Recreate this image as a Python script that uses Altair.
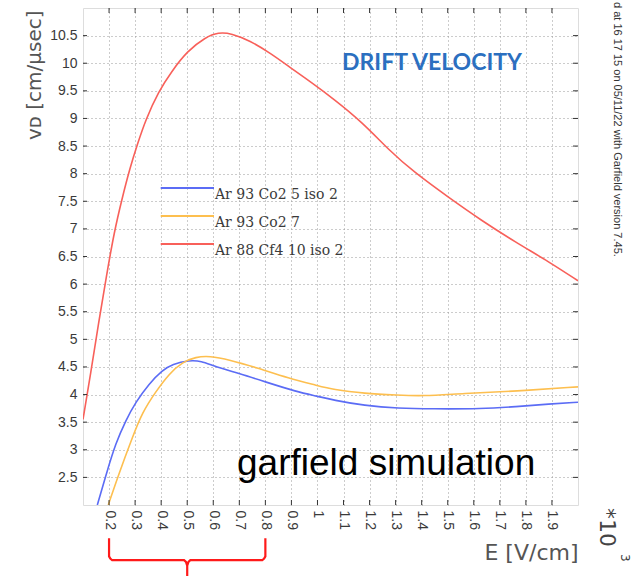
import altair as alt
import pandas as pd

# ---------------- data ----------------
series_names = ["Ar 93 Co2 5 iso 2", "Ar 93 Co2 7", "Ar 88 Cf4 10 iso 2"]
series_colors = ["#5b6cf5", "#fdbf4f", "#f8605a"]

blue_E = [0.155, 0.193, 0.225, 0.264, 0.302, 0.354, 0.405, 0.443, 0.508, 0.552, 0.61, 0.70,
          0.80, 0.92, 1.00, 1.06, 1.18, 1.31, 1.44, 1.63, 1.76, 1.89, 2.00]
blue_v = [2.0, 2.62, 3.11, 3.53, 3.86, 4.20, 4.44, 4.55, 4.62, 4.61, 4.50, 4.38,
          4.23, 4.05, 3.97, 3.90, 3.80, 3.75, 3.74, 3.74, 3.78, 3.83, 3.86]

orange_E = [0.197, 0.238, 0.29, 0.328, 0.379, 0.431, 0.482, 0.533, 0.585, 0.662, 0.764,
            0.892, 0.995, 1.06, 1.18, 1.31, 1.40, 1.56, 1.76, 2.00]
orange_v = [2.0, 2.57, 3.23, 3.68, 4.05, 4.38, 4.59, 4.68, 4.70, 4.63, 4.49,
            4.29, 4.17, 4.09, 4.02, 3.99, 3.97, 4.02, 4.06, 4.14]

red_E = [0.10, 0.13, 0.16, 0.19, 0.22, 0.25, 0.28, 0.31, 0.34, 0.39, 0.44, 0.50, 0.57, 0.62,
         0.67, 0.74, 0.82, 0.89, 0.98, 1.06, 1.17, 1.28, 1.37, 1.50, 1.63, 1.76, 1.89, 2.00]
red_v = [3.55, 4.40, 5.30, 6.15, 6.95, 7.55, 8.10, 8.55, 8.97, 9.49, 9.85, 10.22, 10.47, 10.56,
         10.54, 10.41, 10.18, 9.94, 9.64, 9.36, 8.94, 8.40, 8.03, 7.58, 7.15, 6.76, 6.40, 6.06]

x_ticks = [0.2, 0.3, 0.4, 0.5, 0.6, 0.7, 0.8, 0.9, 1.0, 1.1, 1.2, 1.3, 1.4, 1.5, 1.6, 1.7, 1.8, 1.9]
y_ticks = [2.5, 3.0, 3.5, 4.0, 4.5, 5.0, 5.5, 6.0, 6.5, 7.0, 7.5, 8.0, 8.5, 9.0, 9.5, 10.0, 10.5]

brace_range = [0.2, 0.8]   # field range highlighted below the axis

# ---------------- tables ----------------
rows = []
for name, Es, vs in zip(series_names, [blue_E, orange_E, red_E], [blue_v, orange_v, red_v]):
    for i, (e, v) in enumerate(zip(Es, vs)):
        rows.append({"E": e, "v": v, "series": name, "i": i})
df = pd.DataFrame(rows)

lo, hi = brace_range
mid = (lo + hi) / 2
# curly-brace outline (shape geometry, in data units below the axis)
b_top, b_corner, b_line, b_tip = 1.40, 1.07, 1.0, 0.71
d = 0.012
brace_pts = [(lo, b_top), (lo, b_corner), (lo + d * 0.4, b_line + 0.03), (lo + d, b_line),
             (mid - d, b_line), (mid - d * 0.4, b_line - 0.03), (mid, b_line - 0.1), (mid, b_tip),
             (mid, b_line - 0.1), (mid + d * 0.4, b_line - 0.03), (mid + d, b_line),
             (hi - d, b_line), (hi - d * 0.4, b_line + 0.03), (hi, b_corner), (hi, b_top)]
brace_df = pd.DataFrame({"E": [p[0] for p in brace_pts], "v": [p[1] for p in brace_pts],
                         "i": list(range(len(brace_pts)))})

W, H = 495, 497
xscale = alt.Scale(domain=[0.1, 2.0], nice=False, zero=False)
yscale = alt.Scale(domain=[2.0, 11.0], nice=False, zero=False)

x_axis = alt.Axis(values=x_ticks, format="~g", labelAngle=90, labelFont="Liberation Sans",
                  labelFontSize=14, labelColor="#3a3a3a", labelPadding=5, labelFlush=False,
                  labelOverlap=False, labelSeparation=0, tickSize=0, domain=False, grid=True,
                  gridDash=[1, 3], gridColor="#999", title="E [V/cm]", titleFont="DejaVu Sans",
                  titleFontSize=22, titleFontWeight="normal", titleColor="#555",
                  titleAnchor="end", titleAlign="right", titleX=W, titleY=47,
                  titleBaseline="middle")
y_axis = alt.Axis(values=y_ticks, format="~g", labelFont="Liberation Sans", labelFontSize=14,
                  labelColor="#3a3a3a", labelPadding=6, labelOverlap=False, labelSeparation=0,
                  labelFlush=False, tickSize=0, domain=False, grid=True,
                  gridDash=[1, 3], gridColor="#999", title="vᴅ [cm/μsec]",
                  titleFont="DejaVu Sans", titleFontSize=20, titleFontWeight="normal",
                  titleColor="#555", titleAngle=-90, titleX=-49, titleY=2,
                  titleAlign="right", titleBaseline="middle")

X = alt.X("E:Q", scale=xscale, axis=x_axis)
Y = alt.Y("v:Q", scale=yscale, axis=y_axis)

lines = alt.Chart(df).mark_line(strokeWidth=1.6, clip=True, interpolate="basis").encode(
    x=X, y=Y,
    color=alt.Color("series:N", scale=alt.Scale(domain=series_names, range=series_colors),
                    legend=alt.Legend(orient="none", legendX=104, legendY=166, title=None,
                                      symbolType="M-3.1,0H1", symbolSize=676,
                                      symbolStrokeWidth=2, symbolFillColor="transparent",
                                      labelFont="DejaVu Serif", labelFontSize=14,
                                      labelColor="#3a3a3a", labelOffset=0, labelBaseline="top",
                                      rowPadding=0)),
    order="i:Q",
)

tx = pd.DataFrame({"E": x_ticks})
ty = pd.DataFrame({"v": y_ticks})
tick_color = "#333"
top_ticks = alt.Chart(tx).mark_rule(color=tick_color).encode(
    x=X, y=alt.value(0), y2=alt.value(5))
bot_ticks = alt.Chart(tx).mark_rule(color=tick_color).encode(
    x=X, y=alt.value(H - 5), y2=alt.value(H))
left_ticks = alt.Chart(ty).mark_rule(color=tick_color).encode(
    y=Y, x=alt.value(0), x2=alt.value(4))
right_ticks = alt.Chart(ty).mark_rule(color=tick_color).encode(
    y=Y, x=alt.value(W - 5), x2=alt.value(W))

brace = alt.Chart(brace_df).mark_line(color="#ff1a1a", strokeWidth=2.2, clip=False).encode(
    x=X, y=Y, order="i:Q")

def label(text, x, y, size, color="#333", font="Liberation Sans", weight="normal",
          angle=0, align="left", baseline="middle"):
    return alt.Chart(pd.DataFrame({"t": [text]})).mark_text(
        font=font, fontSize=size, fontWeight=weight, color=color, angle=angle,
        align=align, baseline=baseline).encode(text="t:N", x=alt.value(x), y=alt.value(y))

drift = label("DRIFT VELOCITY", 349, 55, 23, color="#2b6fc0", font="Lato", weight="bold",
              align="center")
garf = label("garfield simulation", 154, 467, 37, color="#000", baseline="alphabetic")
times10 = label("*10", 524, 500, 22, color="#444", font="DejaVu Sans", angle=90)
exp3 = label("3", 542, 546, 12, color="#444", font="DejaVu Sans", angle=90)
side = label("d at 16 17 15 on 05/11/22 with Garfield version 7.45.", 534, -6, 11,
             color="#333", angle=90)

chart = alt.layer(
    lines, top_ticks, bot_ticks, left_ticks, right_ticks, brace,
    drift, garf, times10, exp3, side,
).properties(
    width=W, height=H,
    autosize=alt.AutoSizeParams(type="none"),
    padding={"left": 83, "top": 8, "right": 55, "bottom": 71},
).configure_view(
    stroke="#444", strokeWidth=1.6
).configure_axis(
    labelOverlap=False
).configure(background="white")

chart.save("out.html", embed_options={"renderer": "svg", "actions": False})
